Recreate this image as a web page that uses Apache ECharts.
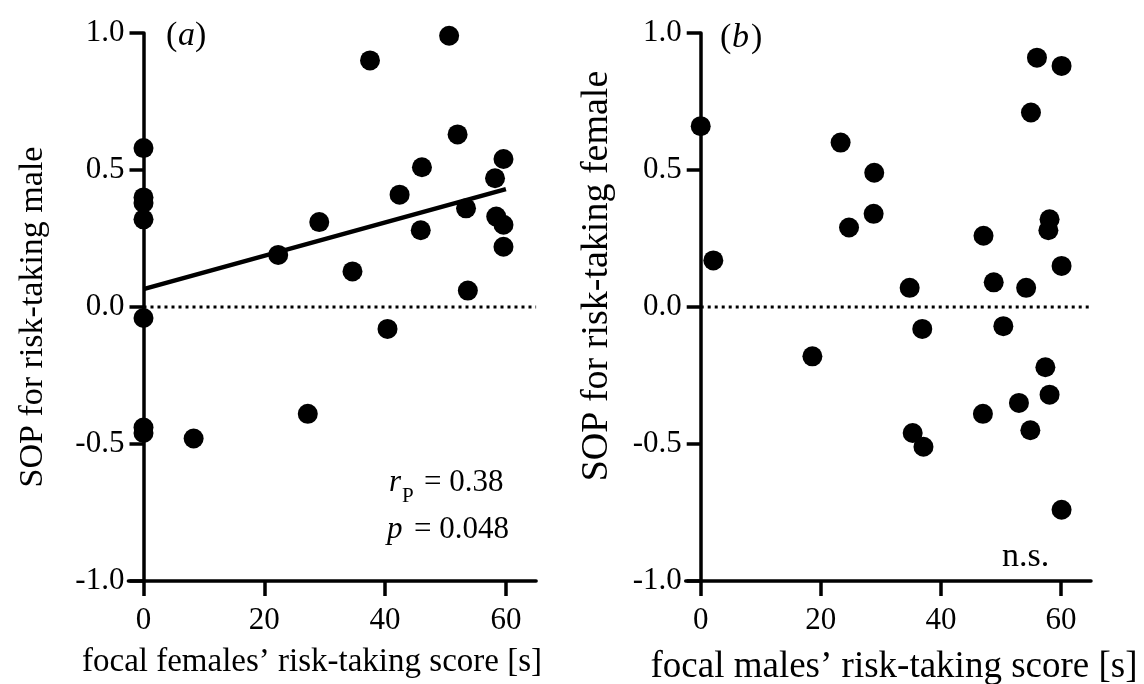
<!DOCTYPE html>
<html>
<head>
<meta charset="utf-8">
<title>SOP vs risk-taking score</title>
<script src="https://cdn.jsdelivr.net/npm/echarts@6/dist/echarts.min.js"></script>
<style>
  html, body { margin: 0; padding: 0; background: #fff; }
  #chart { width: 1144px; height: 684px; }
</style>
</head>
<body>
<div id="chart"></div>
<script>
// panel (a): focal females' score vs SOP for risk-taking male
const femaleScore = [0, 0, 0, 0, 0, 0, 0, 8.3, 22.3, 27.2, 29.1, 34.6, 37.5, 40.4, 42.4, 45.9, 46.1, 50.6, 52.0, 53.4, 53.7, 58.2, 58.4, 59.6, 59.6, 59.6]
const sopMale = [0.58, 0.40, 0.38, 0.32, -0.04, -0.44, -0.46, -0.48, 0.19, -0.39, 0.31, 0.13, 0.90, -0.08, 0.41, 0.28, 0.51, 0.99, 0.63, 0.36, 0.06, 0.47, 0.33, 0.54, 0.30, 0.22]
const fitA = [[0, 0.065], [60, 0.43]]

// panel (b): focal males' score vs SOP for risk-taking female
const maleScore = [0, 2.1, 18.6, 23.3, 24.7, 28.8, 28.9, 34.8, 35.3, 36.9, 37.1, 47.0, 47.1, 48.8, 50.4, 53.0, 54.2, 54.9, 55.0, 56.0, 57.4, 57.9, 58.1, 58.1, 60.1, 60.1, 60.1]
const sopFemale = [0.66, 0.17, -0.18, 0.60, 0.29, 0.34, 0.49, 0.07, -0.46, -0.08, -0.51, -0.39, 0.26, 0.09, -0.07, -0.35, 0.07, -0.45, 0.71, 0.91, -0.22, 0.28, 0.32, -0.32, 0.88, 0.15, -0.74]

const zeroLine = [[0, 0], [65, 0]]
const xTicks = [0, 20, 40, 60]

const serif = '"Liberation Serif", "DejaVu Serif", serif'

function pairs(xs, ys) {
  return xs.map((x, i) => [x, ys[i]])
}

function xAxisFor(gridIndex) {
  return {
    type: 'value',
    gridIndex: gridIndex,
    min: -2.5,
    max: 65,
    splitLine: { show: false },
    axisLine: { onZero: false, lineStyle: { color: '#000', width: 3.5 } },
    axisTick: { length: 15, customValues: xTicks, lineStyle: { color: '#000', width: 3.5 } },
    axisLabel: {
      customValues: xTicks,
      margin: 24,
      color: '#000',
      fontFamily: serif,
      fontSize: 31
    }
  }
}

function yAxisFor(gridIndex) {
  return {
    type: 'value',
    gridIndex: gridIndex,
    min: -1,
    max: 1,
    interval: 0.5,
    splitLine: { show: false },
    axisLine: { onZero: true, lineStyle: { color: '#000', width: 3.5 } },
    axisTick: { length: 14, lineStyle: { color: '#000', width: 3.5 } },
    axisLabel: {
      margin: 4,
      color: '#000',
      fontFamily: serif,
      fontSize: 31,
      formatter: v => v.toFixed(1)
    }
  }
}

function dots(xIdx, data) {
  return {
    type: 'scatter',
    xAxisIndex: xIdx,
    yAxisIndex: xIdx,
    data: data,
    symbol: 'circle',
    symbolSize: 20,
    itemStyle: { color: '#000', opacity: 1 },
    z: 3
  }
}

function dotted(xIdx) {
  return {
    type: 'line',
    xAxisIndex: xIdx,
    yAxisIndex: xIdx,
    data: zeroLine,
    symbol: 'none',
    lineStyle: { color: '#000', width: 3, type: [3, 4] },
    z: 1
  }
}

function txt(x, y, text, size, italic, align) {
  return {
    type: 'text',
    x: x,
    y: y,
    style: {
      text: text,
      fill: '#000',
      font: (italic ? 'italic ' : '') + size + 'px ' + serif,
      align: align || 'left',
      verticalAlign: 'middle'
    }
  }
}

const chart = echarts.init(document.getElementById('chart'), null, { renderer: 'canvas' })

chart.setOption({
  backgroundColor: '#fff',
  animation: false,
  grid: [
    { left: 128.4, top: 33, width: 407.7, height: 548 },
    { left: 685.7, top: 33, width: 405.3, height: 548 }
  ],
  xAxis: [xAxisFor(0), xAxisFor(1)],
  yAxis: [yAxisFor(0), yAxisFor(1)],
  series: [
    dotted(0),
    {
      type: 'line',
      xAxisIndex: 0,
      yAxisIndex: 0,
      data: fitA,
      symbol: 'none',
      lineStyle: { color: '#000', width: 4.5 },
      z: 2
    },
    dots(0, pairs(femaleScore, sopMale)),
    dotted(1),
    dots(1, pairs(maleScore, sopFemale))
  ],
  graphic: [
    // panel labels
    txt(166, 36, '(', 34, false),
    txt(178, 36, 'a', 34, true),
    txt(195, 36, ')', 34, false),
    txt(720, 38, '(', 34, false),
    txt(732, 38, 'b', 34, true),
    txt(751, 38, ')', 34, false),
    // stats
    txt(389, 483, 'r', 31, true),
    txt(402, 496, 'P', 21, false),
    txt(424, 483, '= 0.38', 31, false),
    txt(387, 530, 'p', 31, true),
    txt(414, 530, '= 0.048', 31, false),
    txt(1002, 557, 'n.s.', 34, false),
    // axis titles
    txt(312, 662, 'focal females\u2019 risk-taking score [s]', 33, false, 'center'),
    txt(894, 667, 'focal males\u2019 risk-taking score [s]', 37, false, 'center'),
    {
      type: 'text',
      x: 33, y: 317, rotation: Math.PI / 2,
      style: { text: 'SOP for risk-taking male', fill: '#000', font: '34px ' + serif, align: 'center', verticalAlign: 'middle' }
    },
    {
      type: 'text',
      x: 597, y: 276, rotation: Math.PI / 2,
      style: { text: 'SOP for risk-taking female', fill: '#000', font: '38px ' + serif, align: 'center', verticalAlign: 'middle' }
    }
  ]
})
</script>
</body>
</html>
